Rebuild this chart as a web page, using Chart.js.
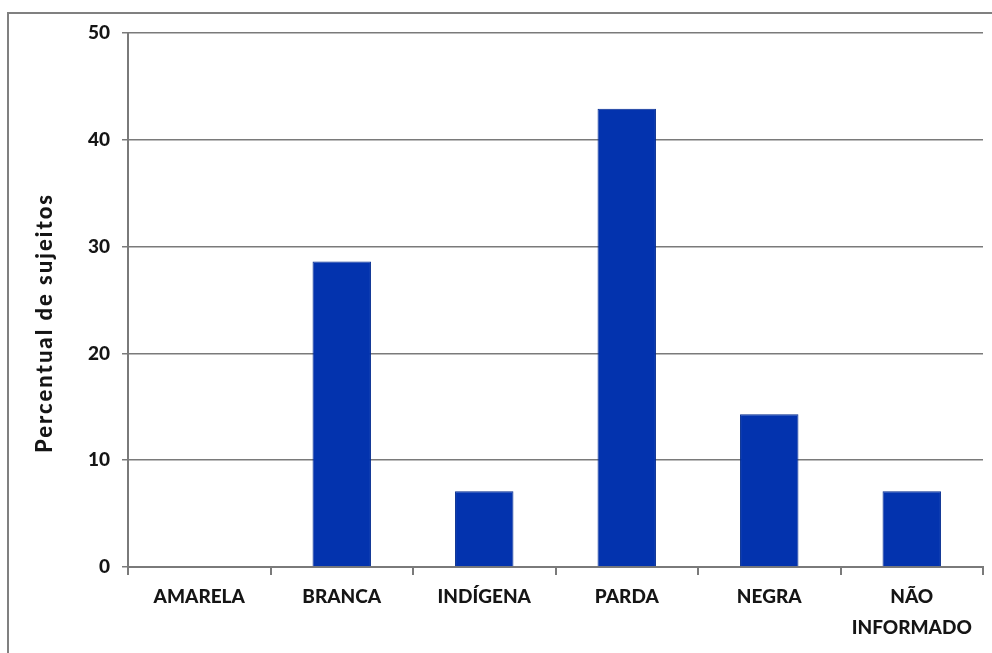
<!DOCTYPE html>
<html lang="pt">
<head>
  <meta charset="UTF-8" />
  <title>Percentual de sujeitos</title>
  <style>
    html, body { margin: 0; padding: 0; background: #fff; }
    #wrap { width: 992px; height: 653px; position: relative; }
  </style>
</head>
<body>
  <div id="wrap">
    <canvas id="myChart" width="992" height="653"></canvas>
  </div>

  <script src="https://cdn.jsdelivr.net/npm/chart.js"></script>
  <script>
    // data
    const categories = ['AMARELA', 'BRANCA', 'INDÍGENA', 'PARDA', 'NEGRA', ['NÃO', 'INFORMADO']];
    const percentValues = [0, 28.6, 7.1, 42.9, 14.3, 7.1];
    const yTicks = [0, 10, 20, 30, 40, 50];
    const yTitle = 'Percentual de sujeitos';

    const textColor = '#151515';
    const lineColor = '#7a7a7a';

    // gray frame around the whole picture + rotated y title (sits a bit below the axis middle)
    const framePlugin = {
      id: 'frame',
      beforeDraw(chart) {
        const c = chart.ctx;
        c.save();
        c.fillStyle = '#fff';
        c.fillRect(0, 0, chart.width, chart.height);
        c.strokeStyle = '#808080';
        c.lineWidth = 2;
        c.strokeRect(8, 13, 1100, 800);
        c.restore();
      },
      afterDraw(chart) {
        const c = chart.ctx;
        c.save();
        c.translate(45, 323);
        c.rotate(-Math.PI / 2);
        c.font = '900 22px Lato';
        c.letterSpacing = '2px';
        c.fillStyle = textColor;
        c.textAlign = 'center';
        c.textBaseline = 'middle';
        c.fillText(yTitle, 0, 0);
        c.restore();
      }
    };

    new Chart(document.getElementById('myChart'), {
      type: 'bar',
      data: {
        labels: categories,
        datasets: [{
          data: percentValues,
          backgroundColor: '#0333ae',
          borderColor: '#022a8f',
          borderWidth: 1,
          barPercentage: 0.41,
          categoryPercentage: 1
        }]
      },
      options: {
        responsive: false,
        animation: false,
        layout: { padding: { left: 60, top: 33, right: 9, bottom: 0 } },
        plugins: {
          legend: { display: false },
          tooltip: { enabled: false }
        },
        scales: {
          x: {
            grid: {
              display: true,
              drawOnChartArea: false,
              drawTicks: true,
              tickLength: 8,
              color: lineColor,
              lineWidth: 2,
              offset: true
            },
            border: { display: true, color: lineColor, width: 2 },
            ticks: {
              color: textColor,
              padding: 7,
              maxRotation: 0,
              autoSkip: false,
              font: { family: 'Lato', weight: '900', size: 19, lineHeight: 1.6 }
            },
            afterFit(scale) { scale.height = 653 - 567; }
          },
          y: {
            min: 0,
            max: 50,
            afterBuildTicks(scale) {
              scale.ticks = yTicks.map(v => ({ value: v }));
            },
            grid: {
              color: lineColor,
              lineWidth: 1.5,
              tickLength: 6
            },
            border: { display: true, color: lineColor, width: 2 },
            ticks: {
              color: textColor,
              padding: 12,
              font: { family: 'Lato', weight: '900', size: 19 }
            },
            afterFit(scale) { scale.width = 128 - 60; }
          }
        }
      },
      plugins: [framePlugin]
    });
  </script>
</body>
</html>
